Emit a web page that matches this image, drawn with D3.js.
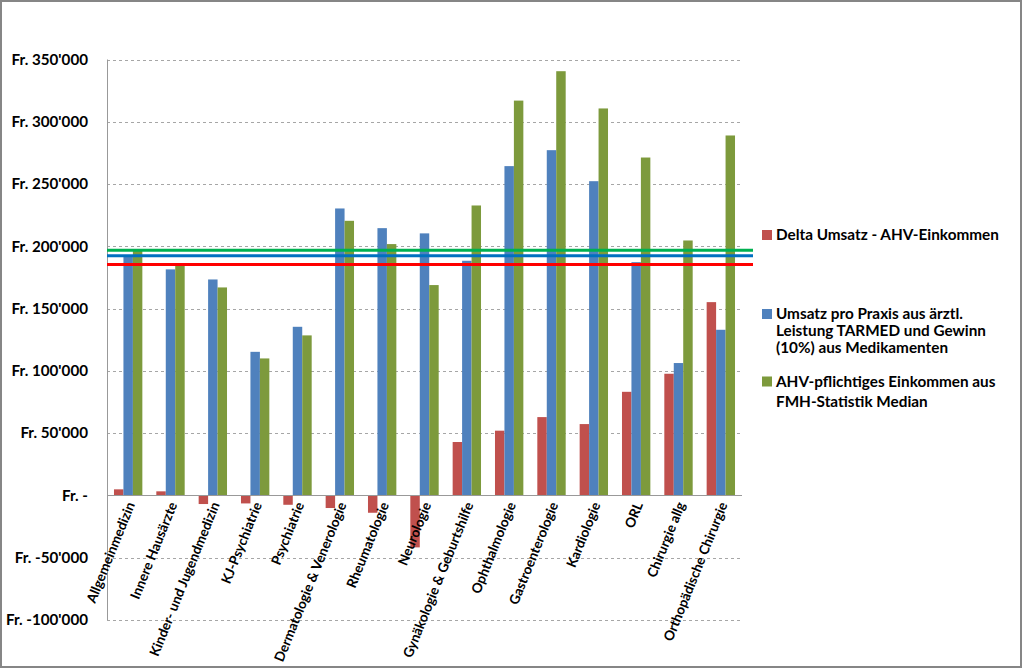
<!DOCTYPE html>
<html><head><meta charset="utf-8">
<script src="https://cdn.jsdelivr.net/npm/d3@7"></script>
<style>body{margin:0;background:#fff}svg{display:block}text{font-family:Lato,"Noto Sans",sans-serif;font-weight:bold;fill:#000}</style>
</head><body>
<svg id="c" width="1023" height="669"></svg>
<script>
const categories = ["Allgemeinmedizin","Innere Hausärzte","Kinder- und Jugendmedizin","KJ-Psychiatrie","Psychiatrie","Dermatologie & Venerologie","Rheumatologie","Neurologie","Gynäkologie & Geburtshilfe","Ophthalmologie","Gastroenterologie","Kardiologie","ORL","Chirurgie allg","Orthopädische Chirurgie"];
const delta   = [4900, 3300, -6900, -6400, -7500, -10100, -13900, -41700, 42900, 52000, 62900, 57300, 83200, 97700, 155200];
const umsatz  = [193000, 181500, 173400, 115300, 135400, 230400, 214600, 210400, 188400, 264400, 277200, 252300, 187300, 106300, 133000];
const ahv     = [197000, 185000, 167000, 110000, 128500, 220500, 201800, 168900, 232800, 317000, 340600, 310700, 271300, 204700, 289000];
const refLines = [196900, 192500, 185500];
const yTicks = [350000, 300000, 250000, 200000, 150000, 100000, 50000, 0, -50000, -100000];
const seriesNames = [["Delta Umsatz - AHV-Einkommen"],["Umsatz pro Praxis aus ärztl.","Leistung TARMED und Gewinn","(10%) aus Medikamenten"],["AHV-pflichtiges Einkommen aus","FMH-Statistik Median"]];

const barColors = ["#C0504D","#4F81BD","#7D9A3C"];
const lineColors = ["#00B050","#0070C0","#FF0000"];
const svg = d3.select("#c");
svg.append("rect").attr("x",1).attr("y",1).attr("width",1020).attr("height",666).attr("fill","#fff").attr("stroke","#868686").attr("stroke-width",2);

const L=107,R=742,T=59.5,B=620;
const y = d3.scaleLinear().domain([-100000,350000]).range([B,T]);
const x0 = d3.scaleBand().domain(categories).range([L,R]).paddingInner(0.33).paddingOuter(0.165);
const x1 = d3.scaleBand().domain([0,1,2]).range([0,x0.bandwidth()]);
const fmt = v => v===0 ? "Fr. -" : "Fr. " + (v<0?"-":"") + d3.format(",")(Math.abs(v)).replace(/,/g,"'");

// gridlines
svg.append("g").selectAll("line").data(yTicks.filter(d=>d!==0)).join("line")
  .attr("x1",L).attr("x2",R).attr("y1",d=>Math.round(y(d))+0.5).attr("y2",d=>Math.round(y(d))+0.5)
  .attr("stroke","#A6A6A6").attr("stroke-dasharray","3,3");

// y labels
svg.append("g").selectAll("text").data(yTicks).join("text")
  .attr("x",88).attr("y",d=>y(d)).attr("dy","0.35em").attr("text-anchor","end")
  .style("font-size","15.2px").text(fmt);

// bars
const data = categories.map((c,i)=>[delta[i],umsatz[i],ahv[i]]);
const g = svg.append("g");
categories.forEach((c,i)=>{
  g.selectAll(null).data(data[i]).join("rect")
   .attr("x",(d,j)=>x0(c)+x1(j)).attr("width",x1.bandwidth())
   .attr("y",d=>y(Math.max(0,d))).attr("height",d=>Math.abs(y(d)-y(0)))
   .attr("fill",(d,j)=>barColors[j]);
});

// axes lines
svg.append("line").attr("x1",L+0.5).attr("x2",L+0.5).attr("y1",T).attr("y2",B).attr("stroke","#999");
svg.append("line").attr("x1",L).attr("x2",R).attr("y1",Math.round(y(0))+0.5).attr("y2",Math.round(y(0))+0.5).attr("stroke","#999");

// reference lines
svg.append("g").selectAll("line").data(refLines).join("line")
  .attr("x1",L).attr("x2",753).attr("y1",d=>y(d)).attr("y2",d=>y(d))
  .attr("stroke",(d,i)=>lineColors[i]).attr("stroke-width",3);

// x labels
svg.append("g").selectAll("text").data(categories).join("text")
  .attr("transform",d=>`translate(${x0(d)+x0.bandwidth()/2+7},${y(0)+9}) rotate(-68)`)
  .attr("text-anchor","end").style("font-size","13.6px").text(d=>d);

// legend
const legY = [235, 314, 381.5];
const lg = svg.append("g");
seriesNames.forEach((lines,i)=>{
  lg.append("rect").attr("x",762).attr("y",legY[i]-5).attr("width",10).attr("height",10).attr("fill",barColors[i]);
  lines.forEach((t,k)=>{
    lg.append("text").attr("x",776).attr("y",legY[i]+k*(i===2?20:17)).attr("dy","0.35em").style("font-size","15.3px").text(t);
  });
});
</script>
</body></html>
